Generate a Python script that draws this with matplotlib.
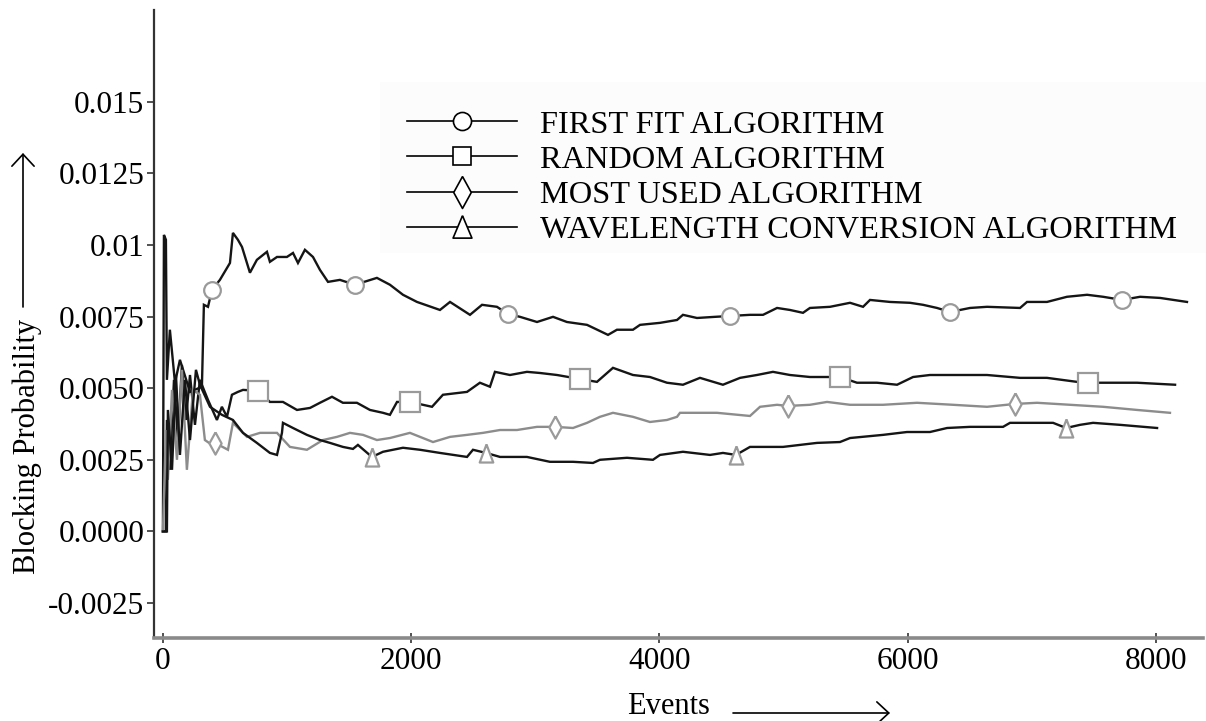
"""
Blocking probability against number of events for four wavelength
assignment algorithms (first fit, random, most used, wavelength conversion).
"""
import numpy as np
import matplotlib
matplotlib.use('Agg')
from matplotlib import pyplot as plt
from matplotlib.lines import Line2D
from matplotlib.patches import Rectangle

plt.rcParams['font.family'] = ['Liberation Serif', 'DejaVu Serif']

# first fit algorithm
ff_events = [0, 8, 24, 32, 56, 97, 137, 218, 314, 330, 363, 395, 459, 540,
             564, 604, 637, 701, 757, 838, 862, 919, 999, 1048, 1088, 1144,
             1209, 1265, 1330, 1426, 1547, 1724, 1829, 1934, 2047, 2232, 2313,
             2474, 2571, 2691, 2780, 2877, 3014, 3143, 3255, 3417, 3586, 3658,
             3787, 3844, 4005, 4142, 4190, 4303, 4448, 4569, 4730, 4835, 4948,
             5052, 5157, 5213, 5375, 5536, 5641, 5697, 5858, 6019, 6124, 6237,
             6342, 6503, 6640, 6906, 6962, 7123, 7284, 7446, 7575, 7728, 7873,
             8034, 8251]
ff_prob = [0.0, 0.01035, 0.01018, 0.00529, 0.00704, 0.00519, 0.00599, 0.00487,
           0.00505, 0.00791, 0.00784, 0.00843, 0.00878, 0.00937, 0.01042,
           0.01018, 0.00993, 0.00903, 0.00948, 0.00976, 0.00941, 0.00958,
           0.00958, 0.00972, 0.00937, 0.00983, 0.00958, 0.00913, 0.00871,
           0.00878, 0.00861, 0.00885, 0.00861, 0.00826, 0.00801, 0.00773,
           0.00801, 0.00756, 0.00791, 0.00784, 0.00759, 0.00749, 0.00731,
           0.00749, 0.00731, 0.00721, 0.00686, 0.00704, 0.00704, 0.00721,
           0.00728, 0.00738, 0.00756, 0.00745, 0.00749, 0.00752, 0.00756,
           0.00756, 0.00780, 0.00773, 0.00763, 0.00780, 0.00784, 0.00798,
           0.00784, 0.00808, 0.00801, 0.00798, 0.00791, 0.00780, 0.00766,
           0.00780, 0.00784, 0.00780, 0.00801, 0.00801, 0.00819, 0.00826,
           0.00819, 0.00808, 0.00819, 0.00815, 0.00801]
ff_mark_events = [395, 1547, 2780, 4569, 6342, 7728]
ff_mark_prob = [0.00843, 0.00861, 0.00759, 0.00752, 0.00766, 0.00808]

# random algorithm
rnd_events = [0, 24, 32, 56, 89, 121, 153, 185, 218, 258, 298, 363, 435, 475,
              516, 556, 604, 645, 766, 862, 967, 1080, 1185, 1265, 1362, 1450,
              1563, 1668, 1773, 1829, 1886, 1990, 2168, 2256, 2450, 2554, 2635,
              2675, 2796, 2933, 3038, 3175, 3360, 3497, 3626, 3787, 3924, 4061,
              4190, 4327, 4512, 4650, 4786, 4915, 5052, 5213, 5351, 5455, 5592,
              5753, 5915, 6044, 6180, 6366, 6640, 6906, 7123, 7365, 7454, 7575,
              7849, 8155]
rnd_prob = [0.0, 0.0, 0.00389, 0.00215, 0.00529, 0.00319, 0.00581, 0.00389,
            0.00546, 0.00372, 0.00529, 0.00459, 0.00389, 0.00435, 0.00400,
            0.00477, 0.00487, 0.00494, 0.00491, 0.00452, 0.00452, 0.00424,
            0.00431, 0.00449, 0.00470, 0.00449, 0.00449, 0.00424, 0.00414,
            0.00407, 0.00452, 0.00452, 0.00435, 0.00477, 0.00487, 0.00519,
            0.00505, 0.00557, 0.00546, 0.00557, 0.00553, 0.00546, 0.00532,
            0.00522, 0.00571, 0.00546, 0.00539, 0.00519, 0.00512, 0.00536,
            0.00512, 0.00536, 0.00546, 0.00557, 0.00546, 0.00539, 0.00539,
            0.00539, 0.00519, 0.00519, 0.00512, 0.00539, 0.00546, 0.00546,
            0.00546, 0.00536, 0.00536, 0.00522, 0.00519, 0.00519, 0.00519,
            0.00512]
rnd_mark_events = [766, 1990, 3360, 5455, 7454]
rnd_mark_prob = [0.00491, 0.00452, 0.00532, 0.00539, 0.00519]

# most used algorithm
mu_events = [0, 24, 40, 73, 113, 153, 193, 242, 298, 338, 395, 419, 524, 564,
             677, 782, 919, 1023, 1160, 1289, 1402, 1507, 1612, 1724, 1829,
             1990, 2176, 2313, 2450, 2579, 2716, 2853, 3014, 3159, 3304, 3417,
             3521, 3626, 3787, 3924, 4061, 4142, 4166, 4464, 4730, 4811, 4948,
             5036, 5213, 5351, 5536, 5802, 6076, 6366, 6640, 6865, 7043, 7309,
             7575, 7849, 8114]
mu_prob = [0.0, 0.00354, 0.00180, 0.00494, 0.00250, 0.00564, 0.00215, 0.00494,
           0.00477, 0.00319, 0.00302, 0.00309, 0.00285, 0.00379, 0.00330,
           0.00344, 0.00344, 0.00295, 0.00285, 0.00319, 0.00330, 0.00344,
           0.00337, 0.00319, 0.00326, 0.00344, 0.00312, 0.00330, 0.00337,
           0.00344, 0.00354, 0.00354, 0.00365, 0.00365, 0.00361, 0.00379,
           0.00400, 0.00414, 0.00400, 0.00382, 0.00389, 0.00400, 0.00414,
           0.00414, 0.00403, 0.00435, 0.00442, 0.00438, 0.00442, 0.00452,
           0.00442, 0.00442, 0.00449, 0.00442, 0.00435, 0.00445, 0.00449,
           0.00442, 0.00435, 0.00424, 0.00414]
mu_mark_events = [419, 3159, 5036, 6865]
mu_mark_prob = [0.00309, 0.00365, 0.00438, 0.00445]

# wavelength conversion algorithm
wc_events = [0, 32, 40, 73, 105, 137, 177, 218, 266, 298, 379, 475, 564, 645,
             757, 862, 919, 959, 967, 1048, 1160, 1265, 1346, 1450, 1531, 1571,
             1684, 1773, 1934, 2071, 2232, 2450, 2498, 2603, 2716, 2933, 3118,
             3304, 3465, 3521, 3739, 3948, 4005, 4190, 4408, 4512, 4617, 4730,
             4996, 5270, 5455, 5536, 5802, 5995, 6180, 6318, 6503, 6769, 6825,
             7172, 7277, 7389, 7494, 7712, 8010]
wc_prob = [0.0, 0.0, 0.00424, 0.00215, 0.00546, 0.00267, 0.00529, 0.00319,
           0.00564, 0.00512, 0.00435, 0.00407, 0.00389, 0.00344, 0.00309,
           0.00274, 0.00267, 0.00344, 0.00379, 0.00361, 0.00337, 0.00319,
           0.00309, 0.00295, 0.00288, 0.00302, 0.00260, 0.00278, 0.00292,
           0.00285, 0.00274, 0.00260, 0.00285, 0.00274, 0.00260, 0.00260,
           0.00243, 0.00243, 0.00239, 0.00250, 0.00257, 0.00250, 0.00267,
           0.00278, 0.00267, 0.00274, 0.00267, 0.00295, 0.00295, 0.00309,
           0.00312, 0.00326, 0.00337, 0.00347, 0.00347, 0.00361, 0.00365,
           0.00365, 0.00379, 0.00379, 0.00361, 0.00372, 0.00379, 0.00372,
           0.00361]
wc_mark_events = [1684, 2603, 4617, 7277]
wc_mark_prob = [0.00260, 0.00274, 0.00267, 0.00361]

labels = ['FIRST FIT ALGORITHM', 'RANDOM ALGORITHM', 'MOST USED ALGORITHM',
          'WAVELENGTH CONVERSION ALGORITHM']

y_ticks = [-0.0025, 0.0, 0.0025, 0.005, 0.0075, 0.01, 0.0125, 0.015]
y_tick_labels = ['-0.0025', '0.0000', '0.0025', '0.0050', '0.0075', '0.01',
                 '0.0125', '0.015']
x_ticks = [0, 2000, 4000, 6000, 8000]

# tall diamond and narrow triangle used as marker shapes
diamond = [(0, 1), (0.55, 0), (0, -1), (-0.55, 0), (0, 1)]
triangle = [(0, 1), (0.75, -1), (-0.75, -1), (0, 1)]
triangle_wide = [(0, 1), (0.8, -0.9), (-0.8, -0.9), (0, 1)]

fig = plt.figure(figsize=(12.06, 7.21), dpi=100)
fig.patch.set_facecolor('white')
ax = fig.add_axes([154/1206, 1 - 638/721, 1049/1206, 628/721])
ax.set_facecolor('none')

# faint panel behind the legend
fig.add_artist(Rectangle((380/1206, 1 - 253/721), 826/1206, 171/721,
                         transform=fig.transFigure, facecolor='#fcfcfc',
                         edgecolor='none', zorder=-1))

line_kw = dict(lw=1.7, solid_joinstyle='miter')
ax.plot(ff_events, ff_prob, color='#151515', **line_kw)
ax.plot(rnd_events, rnd_prob, color='#151515', **line_kw)
ax.plot(mu_events, mu_prob, color='#8c8c8c', **line_kw)
ax.plot(wc_events, wc_prob, color='#151515', **line_kw)

mark_kw = dict(ls='none', mfc='white', mec='#9a9a9a', mew=1.6, zorder=5)
ax.plot(ff_mark_events, ff_mark_prob, marker='o', ms=12, **mark_kw)
ax.plot(rnd_mark_events, rnd_mark_prob, marker='s', ms=14, **mark_kw)
ax.plot(mu_mark_events, mu_mark_prob, marker=diamond, ms=16, **mark_kw)
ax.plot(wc_mark_events, wc_mark_prob, marker=triangle, ms=13, **mark_kw)

ax.set_xlim(-72, 8380)
ax.set_ylim(-0.00372, 0.0182)
ax.set_xticks(x_ticks)
ax.set_xticklabels([str(t) for t in x_ticks])
ax.set_yticks(y_ticks)
ax.set_yticklabels(y_tick_labels)

for side in ['top', 'right']:
    ax.spines[side].set_visible(False)
ax.spines['left'].set_color('#333333')
ax.spines['left'].set_linewidth(1.6)
ax.spines['bottom'].set_color('#8a8a8a')
ax.spines['bottom'].set_linewidth(2.6)

ax.tick_params(axis='y', direction='out', length=5, width=1.2,
               color='#333333', labelsize=22.5, pad=2)
ax.tick_params(axis='x', direction='inout', length=7, width=1.2,
               color='#333333', labelsize=22.5, pad=3)

# legend handles in black
handles = [
    Line2D([], [], color='black', lw=1.2, marker='o', ms=13, mfc='white',
           mec='black', mew=1.2),
    Line2D([], [], color='black', lw=1.2, marker='s', ms=13, mfc='white',
           mec='black', mew=1.2),
    Line2D([], [], color='black', lw=1.2, marker=diamond, ms=23, mfc='white',
           mec='black', mew=1.2),
    Line2D([], [], color='black', lw=1.2, marker=triangle_wide, ms=17,
           mfc='white', mec='black', mew=1.2),
]
ax.legend(handles, labels, loc='upper left',
          bbox_to_anchor=(407/1206, 1 - 110/721),
          bbox_transform=fig.transFigure, frameon=False, fontsize=23.3,
          handlelength=3.4, handletextpad=0.7, labelspacing=0.17,
          borderpad=0, borderaxespad=0)

# axis titles with arrows
fig.text(27/1206, 1 - 446/721, 'Blocking Probability', rotation=90,
         ha='center', va='center', fontsize=22)
fig.text(668/1206, 1 - 706/721, 'Events', ha='center', va='center',
         fontsize=22)
arrow_kw = dict(arrowstyle='->,head_length=0.86,head_width=0.8',
                lw=1.2, color='black', shrinkA=0, shrinkB=0)
ax.annotate('', xy=(23, 721 - 153), xytext=(23, 721 - 307),
            xycoords='figure pixels', textcoords='figure pixels',
            arrowprops=arrow_kw, annotation_clip=False)
ax.annotate('', xy=(890, 721 - 713), xytext=(733, 721 - 713),
            xycoords='figure pixels', textcoords='figure pixels',
            arrowprops=arrow_kw, annotation_clip=False)

fig.savefig('out.png', dpi=100, facecolor='white')
